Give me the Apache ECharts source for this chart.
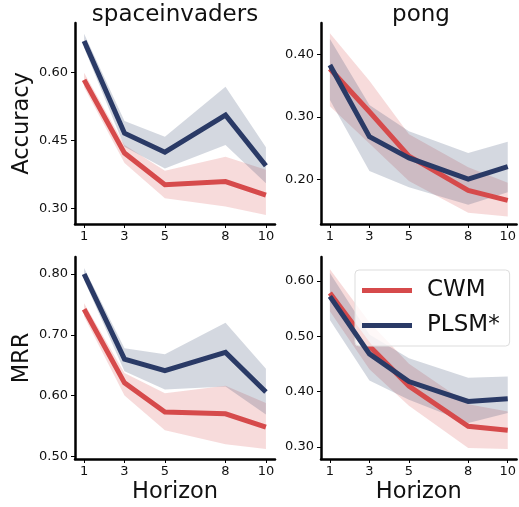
<!DOCTYPE html>
<html>
<head>
<meta charset="utf-8">
<script src="https://cdn.jsdelivr.net/npm/echarts@6/dist/echarts.min.js"></script>
<style>html,body{margin:0;padding:0;background:#fff;}#c{width:519px;height:507px;}</style>
</head>
<body>
<div id="c"></div>
<script>
// ---- data ----
const horizons = [1, 3, 5, 8, 10];
const xTicks = [1, 3, 5, 8, 10];

const siAccCWM      = [0.584, 0.422, 0.352, 0.359, 0.329];
const siAccCWMHi    = [0.600, 0.440, 0.383, 0.414, 0.385];
const siAccCWMLo    = [0.568, 0.400, 0.322, 0.304, 0.285];
const siAccPLSM     = [0.670, 0.466, 0.424, 0.506, 0.394];
const siAccPLSMHi   = [0.686, 0.493, 0.458, 0.569, 0.435];
const siAccPLSMLo   = [0.655, 0.436, 0.388, 0.440, 0.355];

const pgAccCWM      = [0.377, 0.308, 0.237, 0.182, 0.166];
const pgAccCWMHi    = [0.434, 0.358, 0.272, 0.219, 0.194];
const pgAccCWMLo    = [0.317, 0.257, 0.197, 0.146, 0.140];
const pgAccPLSM     = [0.383, 0.268, 0.234, 0.200, 0.220];
const pgAccPLSMHi   = [0.425, 0.319, 0.277, 0.242, 0.260];
const pgAccPLSMLo   = [0.327, 0.213, 0.187, 0.159, 0.179];

const siMrrCWM      = [0.742, 0.621, 0.573, 0.570, 0.548];
const siMrrCWMHi    = [0.752, 0.637, 0.604, 0.616, 0.588];
const siMrrCWMLo    = [0.730, 0.600, 0.543, 0.520, 0.512];
const siMrrPLSM     = [0.800, 0.660, 0.641, 0.671, 0.606];
const siMrrPLSMHi   = [0.810, 0.678, 0.668, 0.720, 0.644];
const siMrrPLSMLo   = [0.790, 0.640, 0.610, 0.615, 0.569];

const pgMrrCWM      = [0.578, 0.482, 0.410, 0.337, 0.330];
const pgMrrCWMHi    = [0.621, 0.525, 0.450, 0.377, 0.364];
const pgMrrCWMLo    = [0.545, 0.440, 0.374, 0.298, 0.296];
const pgMrrPLSM     = [0.572, 0.468, 0.418, 0.382, 0.387];
const pgMrrPLSMHi   = [0.614, 0.503, 0.460, 0.425, 0.427];
const pgMrrPLSMLo   = [0.529, 0.420, 0.385, 0.343, 0.361];

const siAccTicks = [0.30, 0.45, 0.60];
const pgAccTicks = [0.20, 0.30, 0.40];
const siMrrTicks = [0.50, 0.60, 0.70, 0.80];
const pgMrrTicks = [0.30, 0.40, 0.50, 0.60];

const titles = ['spaceinvaders', 'pong'];
const seriesNames = ['CWM', 'PLSM*'];

// ---- styling ----
const RED = '#d64a4b', NAVY = '#2a3a66';
const RED_BAND = 'rgba(214,74,75,0.2)', NAVY_BAND = 'rgba(42,58,102,0.2)';
const FONT = 'DejaVu Sans';

const grids = [
  {left: 75, top: 23, width: 200, height: 201},
  {left: 321, top: 23, width: 200, height: 201},
  {left: 75, top: 257, width: 200, height: 202},
  {left: 321, top: 257, width: 200, height: 202}
];
const yRanges = [[0.265, 0.71], [0.128, 0.4505], [0.4957, 0.828], [0.278, 0.643]];
const yTicks = [siAccTicks, pgAccTicks, siMrrTicks, pgMrrTicks];
const yNames = ['Accuracy', '', 'MRR', ''];

const panels = [
  [siAccCWM, siAccCWMHi, siAccCWMLo, siAccPLSM, siAccPLSMHi, siAccPLSMLo],
  [pgAccCWM, pgAccCWMHi, pgAccCWMLo, pgAccPLSM, pgAccPLSMHi, pgAccPLSMLo],
  [siMrrCWM, siMrrCWMHi, siMrrCWMLo, siMrrPLSM, siMrrPLSMHi, siMrrPLSMLo],
  [pgMrrCWM, pgMrrCWMHi, pgMrrCWMLo, pgMrrPLSM, pgMrrPLSMHi, pgMrrPLSMLo]
];

const axisLine = {show: true, onZero: false, lineStyle: {color: '#000', width: 2.5}};
const xAxes = grids.map((g, i) => ({
  type: 'value', gridIndex: i, min: 0.55, max: 10.45,
  axisLine: axisLine,
  axisTick: {show: true, length: 4, lineStyle: {color: '#000', width: 1}, customValues: xTicks},
  axisLabel: {show: true, customValues: xTicks, fontSize: 13, color: '#111', fontFamily: FONT, margin: 6},
  splitLine: {show: false},
  name: i >= 2 ? 'Horizon' : '', nameLocation: 'middle', nameGap: 22,
  nameTextStyle: {fontSize: 22.5, color: '#111', fontFamily: FONT}
}));
const yAxes = grids.map((g, i) => ({
  type: 'value', gridIndex: i, min: yRanges[i][0], max: yRanges[i][1],
  axisLine: axisLine,
  axisTick: {show: true, length: 4, lineStyle: {color: '#000', width: 1}, customValues: yTicks[i]},
  axisLabel: {show: true, customValues: yTicks[i], fontSize: 13, color: '#111', fontFamily: FONT, margin: 7,
    formatter: v => Number(v).toFixed(2)},
  splitLine: {show: false},
  name: yNames[i], nameLocation: 'middle', nameGap: 41,
  nameTextStyle: {fontSize: 22.5, color: '#111', fontFamily: FONT}
}));

function band(i, hi, lo, color) {
  return {
    type: 'custom', xAxisIndex: i, yAxisIndex: i, silent: true, z: 1,
    data: [[horizons[0], hi[0]]],
    renderItem: function (params, api) {
      const pts = [];
      for (let k = 0; k < horizons.length; k++) pts.push(api.coord([horizons[k], hi[k]]));
      for (let k = horizons.length - 1; k >= 0; k--) pts.push(api.coord([horizons[k], lo[k]]));
      return {type: 'polygon', shape: {points: pts}, style: {fill: color}};
    }
  };
}
function line(i, name, vals, color, z) {
  return {
    type: 'line', name: name, xAxisIndex: i, yAxisIndex: i, z: z,
    data: horizons.map((h, k) => [h, vals[k]]),
    symbol: 'none', silent: true,
    lineStyle: {color: color, width: 5, cap: 'butt', join: 'miter'},
    itemStyle: {color: color}
  };
}

const series = [];
panels.forEach((p, i) => {
  series.push(band(i, p[1], p[2], RED_BAND));
  series.push(band(i, p[4], p[5], NAVY_BAND));
  series.push(line(i, seriesNames[0], p[0], RED, 3));
  series.push(line(i, seriesNames[1], p[3], NAVY, 4));
});

const chart = echarts.init(document.getElementById('c'), null, {renderer: 'canvas'});
chart.setOption({
  animation: false,
  backgroundColor: '#fff',
  title: [
    {text: titles[0], left: 170, top: -1, textAlign: 'center', textStyle: {fontSize: 23, fontWeight: 'normal', color: '#111', fontFamily: FONT}},
    {text: titles[1], left: 416, top: -1, textAlign: 'center', textStyle: {fontSize: 23, fontWeight: 'normal', color: '#111', fontFamily: FONT}}
  ],
  legend: {
    data: seriesNames, orient: 'vertical', left: 355, top: 270,
    icon: 'rect', itemWidth: 50, itemHeight: 5, itemGap: 12,
    padding: [9, 10, 9, 7],
    backgroundColor: 'rgba(255,255,255,0.8)', borderColor: '#dddddd', borderWidth: 1, borderRadius: 4,
    textStyle: {fontSize: 23, color: '#111', fontFamily: FONT, padding: [0, 0, 0, 10]},
    selectedMode: false
  },
  grid: grids,
  xAxis: xAxes,
  yAxis: yAxes,
  series: series
});
</script>
</body>
</html>
